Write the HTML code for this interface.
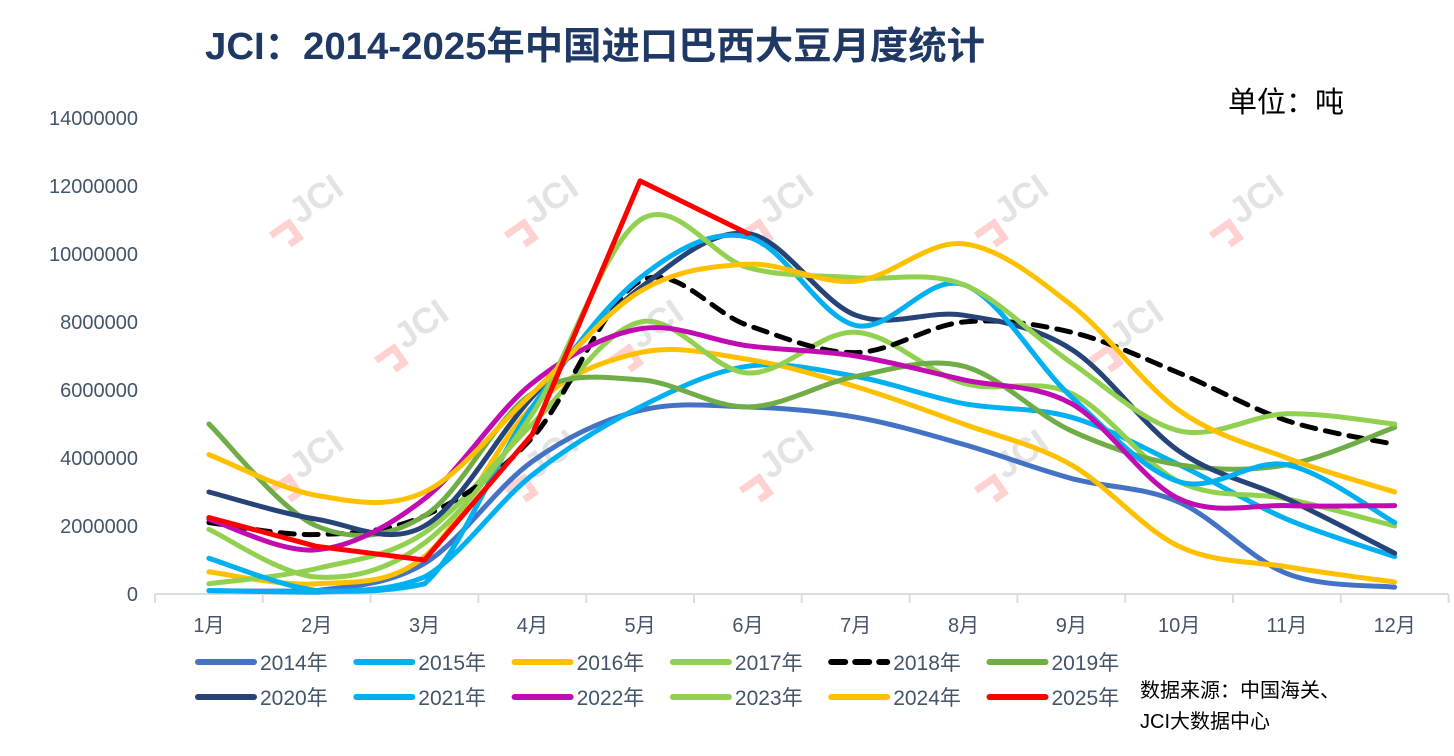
<!DOCTYPE html>
<html><head><meta charset="utf-8"><style>
body{margin:0;background:#fff;}
svg{display:block;font-family:"Liberation Sans","Noto Sans CJK SC",sans-serif;}
</style></head><body>
<svg id="s" width="1454" height="756" viewBox="0 0 1454 756" xmlns="http://www.w3.org/2000/svg">
<text x="205" y="59" font-size="38" font-weight="bold" fill="#1F3864" textLength="780" lengthAdjust="spacingAndGlyphs">JCI：2014-2025年中国进口巴西大豆月度统计</text>
<text x="1228" y="112" font-size="29" fill="#000">单位：吨</text>
<g id="wm"></g>
<g font-size="20" fill="#44546A" text-anchor="end" id="yl"></g>
<line x1="155" y1="594" x2="1448" y2="594" stroke="#D9DEE6" stroke-width="2"/>
<g id="xt" stroke="#D9DEE6" stroke-width="2"></g>
<g font-size="20" fill="#44546A" text-anchor="middle" id="xl"></g>
<g id="lines" fill="none" stroke-linecap="round" stroke-linejoin="round"></g>
<g id="leg" font-size="21" fill="#44546A"></g>
<text x="1140" y="697" font-size="20" fill="#000">数据来源：中国海关、</text>
<text x="1140" y="728" font-size="20" fill="#000">JCI大数据中心</text>
</svg>
<script>
var NS="http://www.w3.org/2000/svg";
function el(p,t,a,txt){var e=document.createElementNS(NS,t);for(var k in a)e.setAttribute(k,a[k]);if(txt!=null)e.textContent=txt;document.getElementById(p).appendChild(e);return e;}
for(var i=0;i<=7;i++){el("yl","text",{x:138,y:601-68*i},String(i*2000000));}
var X=function(i){return 155+53.9+107.8*i;};
for(var i=0;i<=12;i++){var x=155+107.8*i;el("xt","line",{x1:x,y1:594,x2:x,y2:603});}
for(var i=0;i<12;i++)el("xl","text",{x:X(i),y:632},(i+1)+"月");
var wms=[[300,225],[535,225],[770,225],[1005,225],[1240,225],[405,350],[640,350],[1120,350],[300,480],[535,480],[770,480],[1005,480]];
wms.forEach(function(p){var g=el("wm","g",{transform:"translate("+p[0]+","+p[1]+") rotate(-35)",opacity:"0.3"});
var t=document.createElementNS(NS,"text");t.setAttribute("x","0");t.setAttribute("y","0");t.setAttribute("font-size","36");t.setAttribute("font-weight","bold");t.setAttribute("fill","#A6A6A6");t.textContent="JCI";g.appendChild(t);
var r=document.createElementNS(NS,"path");r.setAttribute("d","M-30,-8 L-8,-8 L-8,10 L-20,10");r.setAttribute("stroke","#FF6B6B");r.setAttribute("stroke-width","7");r.setAttribute("fill","none");g.appendChild(r);});
var S=[
["2014年","#4472C4",[0.1,0.1,0.9,3.9,5.4,5.5,5.2,4.4,3.4,2.7,0.6,0.2]],
["2015年","#00B0F0",[0.1,0.05,0.5,3.5,5.5,6.7,6.4,5.6,5.2,3.8,2.2,1.1]],
["2016年","#FFC000",[0.65,0.3,1.1,5.5,7.1,6.9,6.1,5.0,3.8,1.4,0.8,0.35]],
["2017年","#92D050",[0.3,0.75,1.8,5.0,8.0,6.5,7.7,6.2,5.9,3.3,2.8,2.0]],
["2018年","#000000",[2.1,1.75,2.3,4.6,9.2,7.9,7.1,8.0,7.7,6.5,5.1,4.4],1],
["2019年","#70AD47",[5.0,2.0,2.3,5.9,6.3,5.5,6.4,6.7,4.8,3.8,3.8,4.9]],
["2020年","#264478",[3.0,2.2,2.0,5.8,9.0,10.6,8.2,8.2,7.2,4.2,2.8,1.2]],
["2021年","#00B0F0",[1.05,0.1,0.3,5.5,9.3,10.5,7.9,9.1,5.8,3.3,3.8,2.1]],
["2022年","#C00CB0",[2.2,1.3,2.8,6.2,7.8,7.3,7.0,6.3,5.6,2.8,2.6,2.6]],
["2023年","#92D050",[1.9,0.5,1.5,5.3,11.0,9.6,9.3,9.1,6.8,4.8,5.3,5.0]],
["2024年","#FFC000",[4.1,2.9,3.0,5.9,8.9,9.7,9.2,10.3,8.5,5.4,4.0,3.0]],
["2025年","#FF0000",[2.25,1.4,1.0,4.7,12.15,10.6],2]
];
function Y(v){return 594-34*v;}
function cl(y){return Math.min(y,592);}
S.forEach(function(s,k){
 var p=s[2].map(function(v,i){return [X(i),Y(v)];});var d="M"+p[0][0]+","+p[0][1];
 if(s[3]==2){for(var i=1;i<p.length;i++)d+=" L"+p[i][0]+","+p[i][1];}
 else{for(var i=0;i<p.length-1;i++){var p0=p[i-1]||p[i],p1=p[i],p2=p[i+1],p3=p[i+2]||p2;
  var c1=[p1[0]+(p2[0]-p0[0])/6,cl(p1[1]+(p2[1]-p0[1])/6)],c2=[p2[0]-(p3[0]-p1[0])/6,cl(p2[1]-(p3[1]-p1[1])/6)];
  d+=" C"+c1+" "+c2+" "+p2;}}
 var a={d:d,stroke:s[1],"stroke-width":5};if(s[3]==1)a["stroke-dasharray"]="14,10";
 el("lines","path",a);
 var r=Math.floor(k/6),c=k%6,lx=198+158.3*c,ly=662+35*r;
 var la={x1:lx,y1:ly,x2:lx+56,y2:ly,stroke:s[1],"stroke-width":6,"stroke-linecap":"round"};if(s[3]==1)la["stroke-dasharray"]="14,10";
 el("leg","line",la);el("leg","text",{x:lx+62,y:ly+8},s[0]);
});
</script>
</body></html>
